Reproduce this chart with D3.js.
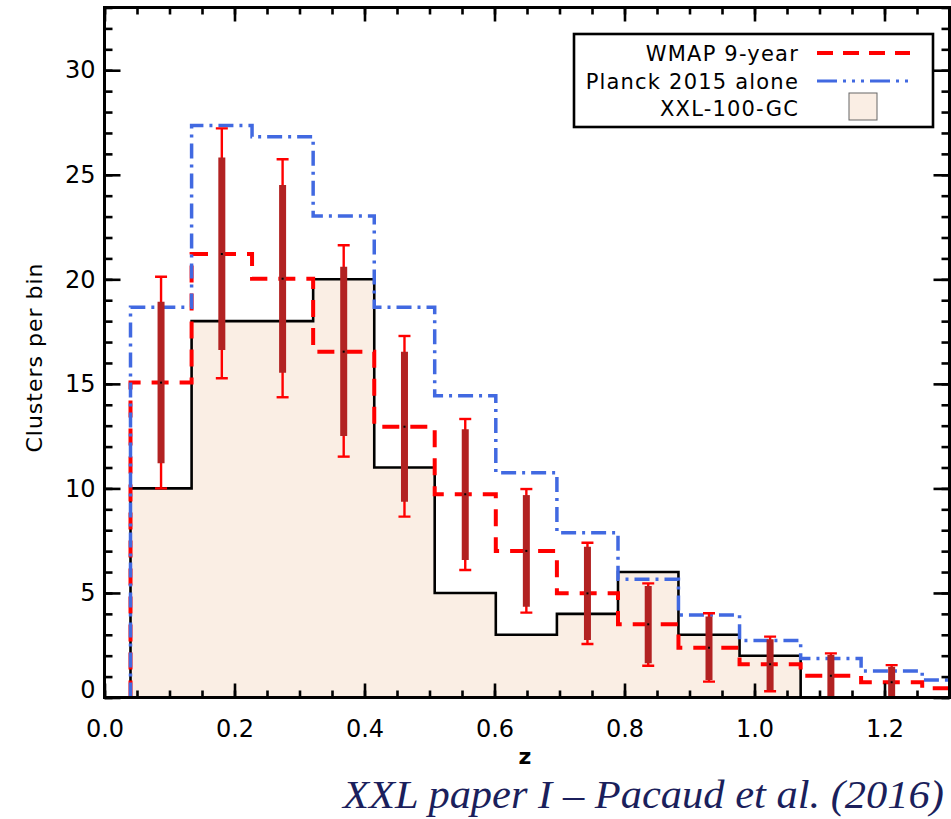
<!DOCTYPE html>
<html>
<head>
<meta charset="utf-8">
<script src="https://cdn.jsdelivr.net/npm/d3@7"></script>
<style>
  html, body { margin: 0; padding: 0; background: #ffffff; }
  svg { display: block; }
</style>
</head>
<body>
<div id="chart"></div>
<script>
// ---------------- data ----------------
const binEdges = [0.040, 0.134, 0.227, 0.321, 0.415, 0.508, 0.602, 0.696, 0.790, 0.883, 0.977, 1.071, 1.164, 1.258, 1.352];
const xxlCounts = [10, 18, 18, 20, 11, 5, 3, 4, 6, 3, 2, 0, 0, 0];
const wmapValues = [15.06, 21.21, 20.03, 16.54, 12.95, 9.72, 7.01, 4.98, 3.50, 2.38, 1.59, 1.04, 0.73, 0.44];
const planckValues = [18.66, 27.36, 26.82, 23.03, 18.66, 14.43, 10.75, 7.88, 5.65, 3.95, 2.73, 1.87, 1.27, 0.84];
const errThinHi  = [20.12, 27.22, 25.74, 21.63, 17.29, 13.32, 9.97, 7.40, 5.46, 4.03, 2.91, 2.11, 1.55];
const errThickHi = [18.93, 25.83, 24.51, 20.60, 16.54, 12.83, 9.68, 7.21, 5.33, 3.87, 2.78, 2.03, 1.47];
const errThickLo = [11.20, 16.62, 15.53, 12.51, 9.36, 6.58, 4.34, 2.75, 1.64, 0.84, 0.36, -0.2, -0.5];
const errThinLo  = [10.00, 15.27, 14.36, 11.52, 8.65, 6.10, 4.06, 2.56, 1.52, 0.76, 0.30, -0.3, -0.6];
const xMajorTicks = [0.0, 0.2, 0.4, 0.6, 0.8, 1.0, 1.2];
const yMajorTicks = [0, 5, 10, 15, 20, 25, 30];
const legendLabels = ["WMAP 9-year", "Planck 2015 alone", "XXL-100-GC"];
const xLabel = "z";
const yLabel = "Clusters per bin";
const creditText = "XXL paper I \u2013 Pacaud et al. (2016)";

// ---------------- layout ----------------
const W = 951, H = 819;
const L = 104.5, R = 949.5, T = 7.5, B = 697.5;

const svg = d3.select("#chart").append("svg")
  .attr("width", W).attr("height", H)
  .attr("viewBox", `0 0 ${W} ${H}`);

const x = d3.scaleLinear().domain([0, 1.3]).range([L, R]);
const y = d3.scaleLinear().domain([0, 33]).range([B, T]);

svg.append("clipPath").attr("id", "plotclip")
  .append("rect").attr("x", L).attr("y", T).attr("width", R - L).attr("height", B - T);

const plot = svg.append("g").attr("clip-path", "url(#plotclip)");

// step path builder
function stepPoints(vals) {
  const pts = [[x(binEdges[0]), y(0)]];
  vals.forEach((v, i) => {
    pts.push([x(binEdges[i]), y(v)]);
    pts.push([x(binEdges[i + 1]), y(v)]);
  });
  pts.push([x(binEdges[vals.length]), y(0)]);
  return pts;
}
const line = d3.line();

// fill for XXL
const xxlPts = stepPoints(xxlCounts);
plot.append("path")
  .attr("d", line(xxlPts) + "Z")
  .attr("fill", "#faeee4")
  .attr("stroke", "none");

// black histogram
const nXXL = xxlCounts.findLastIndex(v => v > 0) + 1;
plot.append("path")
  .attr("d", line(stepPoints(xxlCounts.slice(0, nXXL))))
  .attr("fill", "none")
  .attr("stroke", "#000")
  .attr("stroke-width", 2.6)
  .attr("stroke-linejoin", "miter");

// WMAP red dashed
plot.append("path")
  .attr("d", line(stepPoints(wmapValues)))
  .attr("fill", "none")
  .attr("stroke", "#ff0000")
  .attr("stroke-width", 4)
  .attr("stroke-dasharray", "17,11");

// Planck blue dash-dot
plot.append("path")
  .attr("d", line(stepPoints(planckValues)))
  .attr("fill", "none")
  .attr("stroke", "#4169e1")
  .attr("stroke-width", 3.5)
  .attr("stroke-dasharray", "15,6,3,6");

// error bars
const centers = errThinHi.map((_, i) => (binEdges[i] + binEdges[i + 1]) / 2);
const eb = plot.append("g");
centers.forEach((c, i) => {
  const cx = x(c);
  eb.append("line")
    .attr("x1", cx).attr("x2", cx)
    .attr("y1", y(errThinLo[i])).attr("y2", y(errThinHi[i]))
    .attr("stroke", "#ff0000").attr("stroke-width", 2.4);
  [errThinLo[i], errThinHi[i]].forEach(v => {
    eb.append("line")
      .attr("x1", cx - 6).attr("x2", cx + 6)
      .attr("y1", y(v)).attr("y2", y(v))
      .attr("stroke", "#ff0000").attr("stroke-width", 2.4);
  });
  eb.append("line")
    .attr("x1", cx).attr("x2", cx)
    .attr("y1", y(errThickLo[i])).attr("y2", y(errThickHi[i]))
    .attr("stroke", "#b22222").attr("stroke-width", 7);
  eb.append("rect")
    .attr("x", cx - 1).attr("y", y(wmapValues[i]) - 1)
    .attr("width", 2).attr("height", 2)
    .attr("fill", "#000");
});

// ---------------- axes ----------------
const font = "'DejaVu Sans', sans-serif";
const xMinor = d3.range(0, 1.3001, 0.05);
const yMinor = d3.range(0, 33.001, 1);

function styleAxis(g) {
  g.select(".domain").remove();
  g.selectAll(".tick line").attr("stroke", "#000").attr("stroke-width", 2.6);
  g.selectAll("text").attr("font-family", font).attr("font-size", 24).attr("fill", "#000");
}

// bottom
svg.append("g").attr("transform", `translate(0,${B})`)
  .call(d3.axisBottom(x).tickValues(xMinor).tickSize(-7).tickFormat(""))
  .call(styleAxis);
svg.append("g").attr("transform", `translate(0,${B})`)
  .call(d3.axisBottom(x).tickValues(xMajorTicks).tickSize(-14).tickPadding(22).tickFormat(d3.format(".1f")))
  .call(styleAxis);
// top
svg.append("g").attr("transform", `translate(0,${T})`)
  .call(d3.axisTop(x).tickValues(xMinor).tickSize(-7).tickFormat(""))
  .call(styleAxis);
svg.append("g").attr("transform", `translate(0,${T})`)
  .call(d3.axisTop(x).tickValues(xMajorTicks).tickSize(-14).tickFormat(""))
  .call(styleAxis);
// left
svg.append("g").attr("transform", `translate(${L},0)`)
  .call(d3.axisLeft(y).tickValues(yMinor).tickSize(-8).tickFormat(""))
  .call(styleAxis);
const leftMajor = svg.append("g").attr("transform", `translate(${L},0)`)
  .call(d3.axisLeft(y).tickValues(yMajorTicks).tickSize(-16).tickPadding(9).tickFormat(d3.format("d")))
  .call(styleAxis);
leftMajor.selectAll(".tick").filter(d => d === 0).select("text").attr("y", -8);
// right
svg.append("g").attr("transform", `translate(${R},0)`)
  .call(d3.axisRight(y).tickValues(yMinor).tickSize(-8).tickFormat(""))
  .call(styleAxis);
svg.append("g").attr("transform", `translate(${R},0)`)
  .call(d3.axisRight(y).tickValues(yMajorTicks).tickSize(-16).tickFormat(""))
  .call(styleAxis);

// frame
svg.append("rect")
  .attr("x", L).attr("y", T).attr("width", R - L).attr("height", B - T)
  .attr("fill", "none").attr("stroke", "#000").attr("stroke-width", 3);

// axis titles
svg.append("text")
  .attr("x", 525).attr("y", 764)
  .attr("text-anchor", "middle")
  .attr("font-family", font).attr("font-size", 22).attr("font-weight", "bold")
  .text(xLabel);
svg.append("text")
  .attr("transform", `translate(42,${(T + B) / 2 + 5}) rotate(-90)`)
  .attr("text-anchor", "middle")
  .attr("font-family", font).attr("font-size", 22).attr("letter-spacing", 1)
  .text(yLabel);

// ---------------- legend ----------------
const lg = svg.append("g");
lg.append("rect")
  .attr("x", 574).attr("y", 34).attr("width", 359).attr("height", 93)
  .attr("fill", "#fff").attr("stroke", "#000").attr("stroke-width", 2.6);
const rowY = [53, 81, 108];
legendLabels.forEach((t, i) => {
  lg.append("text")
    .attr("x", 799).attr("y", rowY[i] + 8)
    .attr("text-anchor", "end")
    .attr("font-family", font).attr("font-size", 21).attr("letter-spacing", 1.2)
    .text(t);
});
lg.append("line").attr("x1", 817).attr("x2", 910).attr("y1", rowY[0]).attr("y2", rowY[0])
  .attr("stroke", "#ff0000").attr("stroke-width", 4).attr("stroke-dasharray", "16,10");
lg.append("line").attr("x1", 817).attr("x2", 910).attr("y1", rowY[1]).attr("y2", rowY[1])
  .attr("stroke", "#4169e1").attr("stroke-width", 3).attr("stroke-dasharray", "20,6,3,6,3,6,3,6");
lg.append("rect").attr("x", 849).attr("y", 93).attr("width", 28).attr("height", 27)
  .attr("fill", "#faeee4").attr("stroke", "#666").attr("stroke-width", 1);

// credit
svg.append("text")
  .attr("x", 343).attr("y", 808)
  .attr("text-anchor", "start")
  .attr("font-family", "'Liberation Serif', serif").attr("font-style", "italic")
  .attr("font-size", 41).attr("fill", "#1b1f5c")
  .attr("textLength", 601).attr("lengthAdjust", "spacingAndGlyphs")
  .text(creditText);
</script>
</body>
</html>
